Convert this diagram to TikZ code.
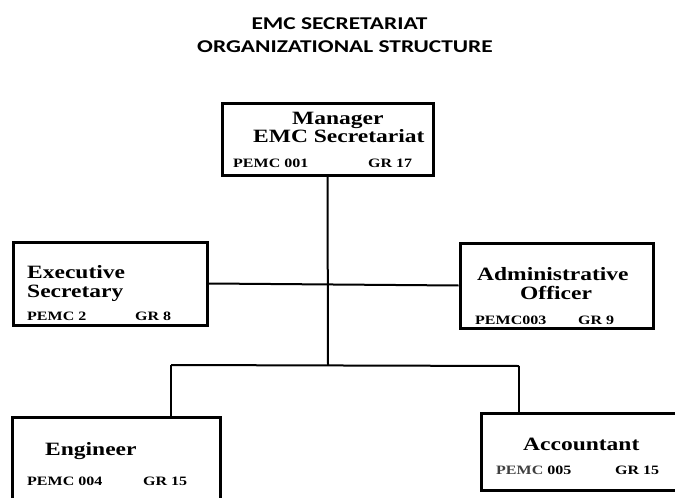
\documentclass[tikz,border=0pt]{standalone}
\usepackage{fontspec}
\newfontfamily\boxfont[FakeStretch=1.25]{Liberation Serif}
\newfontfamily\titlefont[FakeStretch=1.3]{Carlito}
\begin{document}
\begin{tikzpicture}[x=1pt,y=-1pt,
  orgbox/.style={draw, line width=3pt, inner sep=0pt, rectangle},
  posname/.style={font=\boxfont\bfseries\fontsize{18.8}{20}\selectfont, inner sep=0pt, anchor=base west},
  poscode/.style={font=\boxfont\bfseries\fontsize{12.8}{14}\selectfont, inner sep=0pt, anchor=base west},
  ttl/.style={font=\titlefont\bfseries\fontsize{18}{20}\selectfont, inner sep=0pt, anchor=base},
  link/.style={draw, line width=2pt}]
\clip (0,0) rectangle (675,498);
\fill[white] (0,0) rectangle (675,498);
% title
\node[ttl] (t1) at (339.5,29) {EMC SECRETARIAT};
\node[ttl] (t2) at (345,52) {ORGANIZATIONAL STRUCTURE};
% boxes
\node[orgbox, minimum width=211pt, minimum height=72pt] (mgr) at (327.5,139) {};
\node[orgbox, minimum width=194pt, minimum height=83pt] (exec) at (110,283.5) {};
\node[orgbox, minimum width=193pt, minimum height=85pt] (admin) at (556.5,285.5) {};
\node[orgbox, minimum width=208pt, minimum height=93pt] (eng) at (116,463.5) {};
\node[orgbox, minimum width=204pt, minimum height=77pt] (acc) at (583,451.5) {};
% texts
\node[posname] (mgr1) at (292,124) {Manager};
\node[posname] (mgr2) at (253,142) {EMC Secretariat};
\node[poscode] (mgr3) at (233,167) {PEMC 001};
\node[poscode] (mgr4) at (368,167) {GR 17};
\node[posname] (exec1) at (27,278) {Executive};
\node[posname] (exec2) at (27,297) {Secretary};
\node[poscode] (exec3) at (27,320) {PEMC 2};
\node[poscode] (exec4) at (135,320) {GR 8};
\node[posname] (adm1) at (477,280) {Administrative};
\node[posname] (adm2) at (520,299) {Officer};
\node[poscode] (adm3) at (475,324) {PEMC003};
\node[poscode] (adm4) at (578,324) {GR 9};
\node[posname] (eng1) at (45,455) {Engineer};
\node[poscode] (eng2) at (27,485) {PEMC 004};
\node[poscode] (eng3) at (143,485) {GR 15};
\node[posname] (acc1) at (523,450) {Accountant};
\node[poscode] (acc2) at (496,474) {\textcolor{black!75}{PEMC} 005};
\node[poscode] (acc3) at (615,474) {GR 15};
% connectors
\coordinate (jc) at (328,365);
\coordinate (jl) at (171,365);
\coordinate (jr) at (519,366);
\draw[link] (mgr.south) -- (jc);
\draw[link] (exec.east) -- (admin.west);
\draw[link] (jl) -- (jr);
\draw[link] (jl) -- (jl |- eng.north);
\draw[link] (jr) -- (jr |- acc.north);
\end{tikzpicture}
\end{document}
